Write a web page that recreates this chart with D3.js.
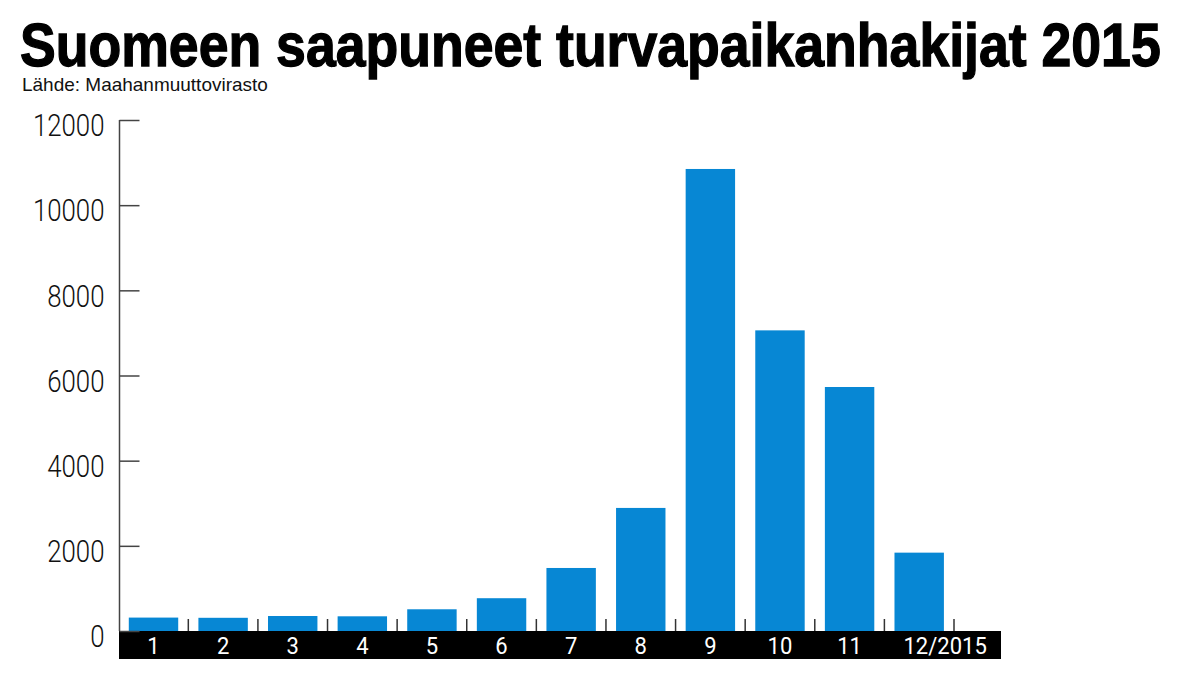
<!DOCTYPE html>
<html>
<head>
<meta charset="utf-8">
<script src="https://cdn.jsdelivr.net/npm/d3@7"></script>
<style>
  html, body { margin: 0; padding: 0; background: #fff; }
  svg { display: block; }
</style>
</head>
<body>
<script>
const months = ["1","2","3","4","5","6","7","8","9","10","11","12/2015"];
const arrivals = [315, 310, 352, 345, 510, 770, 1480, 2890, 10850, 7060, 5730, 1840];
const yTicks = [0, 2000, 4000, 6000, 8000, 10000, 12000];
const titleText = "Suomeen saapuneet turvapaikanhakijat 2015";
const sourceText = "Lähde: Maahanmuuttovirasto";

const W = 1198, H = 674;
const svg = d3.select("body").append("svg").attr("width", W).attr("height", H);

const sans = "'Liberation Sans', Arial, sans-serif";
const light = "Roboto, 'Liberation Sans', sans-serif";

// horizontally squeeze a text element around its anchor x to a target width
function fitWidth(sel, target, anchorX) {
  const w = sel.node().getComputedTextLength();
  const k = target / w;
  sel.attr("transform", `translate(${anchorX},0) scale(${k},1) translate(${-anchorX},0)`);
}

const title = svg.append("text")
  .attr("x", 20).attr("y", 66)
  .attr("font-family", sans)
  .attr("font-weight", "bold")
  .attr("font-size", 61)
  .attr("fill", "#000")
  .attr("stroke", "#000").attr("stroke-width", 1.3)
  .text(titleText);
fitWidth(title, 1141, 20);

const src = svg.append("text")
  .attr("x", 22).attr("y", 91.5)
  .attr("font-family", sans)
  .attr("font-size", 17.5)
  .attr("fill", "#111")
  .text(sourceText);
fitWidth(src, 246, 22);

const y = d3.scaleLinear().domain([0, 12000]).range([631, 120]);
const x = d3.scaleBand().domain(months).range([118.7, 954]).paddingInner(0.29).paddingOuter(0.145);

// black label band
svg.append("rect")
  .attr("x", 119).attr("y", y(0))
  .attr("width", 1001 - 119).attr("height", 28)
  .attr("fill", "#000");

// bars
svg.append("g").selectAll("rect").data(arrivals).join("rect")
  .attr("x", (d, i) => x(months[i]))
  .attr("width", x.bandwidth())
  .attr("y", d => y(d))
  .attr("height", d => y(0) - y(d))
  .attr("fill", "#0787d4");

// separators between bars
const step = x.step();
svg.append("g").selectAll("line").data(months).join("line")
  .attr("x1", d => x(d) + x.bandwidth() / 2 + step / 2)
  .attr("x2", d => x(d) + x.bandwidth() / 2 + step / 2)
  .attr("y1", y(0) - 12).attr("y2", y(0))
  .attr("stroke", "#333").attr("stroke-width", 1.5);

// y axis
const yAxis = d3.axisRight(y).tickValues(yTicks).tickSize(20).tickFormat(d => d);
const gy = svg.append("g").attr("transform", "translate(119.5,0)").call(yAxis);
gy.select(".domain").attr("d", `M0,${y(12000)}V${y(0)}`).attr("stroke", "#444").attr("stroke-width", 1.5);
gy.selectAll(".tick line").attr("stroke", "#444").attr("stroke-width", 1.5);
gy.selectAll(".tick text")
  .attr("x", -15).attr("dy", "0.5em")
  .attr("text-anchor", "end")
  .attr("font-family", light)
  .attr("font-weight", 300)
  .attr("font-size", 31.5)
  .attr("fill", "#111")
  .attr("transform", "translate(-15,0) scale(0.82,1) translate(15,0)");

// x labels
const labelX = (d, i) => x(d) + x.bandwidth() / 2 + (i === months.length - 1 ? 26 : 0);
svg.append("g").selectAll("text").data(months).join("text")
  .attr("x", labelX)
  .attr("y", 654)
  .attr("text-anchor", "middle")
  .attr("font-family", light)
  .attr("font-size", 24.5)
  .attr("fill", "#fff")
  .attr("transform", (d, i) => {
    const cx = labelX(d, i);
    return `translate(${cx},0) scale(0.9,1) translate(${-cx},0)`;
  })
  .text(d => d);
</script>
</body>
</html>
